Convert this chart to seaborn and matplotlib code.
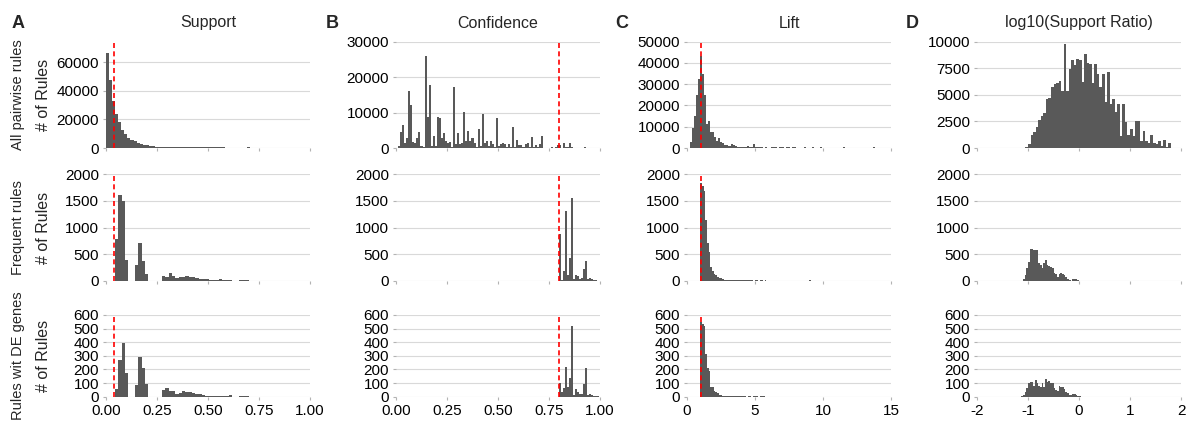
import numpy as np
import pandas as pd
import matplotlib
matplotlib.use("Agg")
import matplotlib.pyplot as plt
import seaborn as sns

# ---- histogram counts (start of first bin, bin width, counts) ----

# Support
support_all_start, support_all_width = 0.0, 0.015
support_all = [66800, 47500, 32700, 23500, 18100, 12900, 9650, 7050, 5900, 4700,
               3800, 2800, 2350, 1900, 1400, 1200, 1000, 900, 850, 800,
               800, 750, 750, 700, 700, 700, 650, 650, 600, 600,
               600, 550, 550, 500, 500, 450, 450, 400, 400, 350,
               350, 300, 300, 250, 0, 0, 600]

support_freq_start, support_freq_width = 0.044, 0.0164
support_freq = [780, 1610, 1500, 394, 0, 0, 300, 706, 375, 131,
                0, 0, 0, 0, 94, 69, 144, 94, 50, 69,
                81, 94, 69, 75, 56, 44, 37, 30, 25, 25,
                12, 30, 19, 19, 19, 0, 0, 19, 19, 10]
support_de = [56, 269, 397, 171, 0, 0, 86, 289, 208, 93,
              0, 0, 0, 0, 49, 61, 42, 42, 22, 24,
              42, 34, 32, 29, 20, 20, 15, 7, 5, 5,
              5, 5, 5, 5, 15, 0, 0, 5, 5, 5]

# Confidence
conf_all_start, conf_all_width = 0.0, 0.01
conf_all = [0, 570, 4550, 6550, 1500, 2940, 16000, 12200, 1800, 1500,
            2900, 4550, 570, 300, 25900, 8800, 17900, 570, 3400, 570,
            8800, 8600, 2900, 4300, 2000, 1500, 1800, 300, 17100, 1000,
            4100, 1000, 1500, 10300, 2000, 4840, 2000, 2750, 1500, 300,
            5400, 600, 9700, 1500, 2000, 500, 2000, 1000, 300, 8600,
            570, 1200, 1500, 1000, 300, 1200, 300, 5800, 300, 2300,
            850, 760, 280, 1000, 1500, 300, 3100, 280, 850, 200,
            1000, 3400, 100, 100, 100, 100, 280, 100, 200, 760,
            850, 100, 1400, 200, 200, 1400, 200, 100, 100, 100,
            100, 100, 400, 100, 100, 100, 100, 100, 100, 100]

conf_freq_start, conf_freq_width = 0.797, 0.01
conf_freq = [875, 20, 190, 1310, 110, 425, 1550, 30, 110, 94,
             30, 50, 225, 375, 30, 50, 38, 19, 12, 8]
conf_de = [98, 37, 61, 215, 69, 135, 519, 12, 56, 32,
           17, 17, 93, 208, 12, 20, 10, 7, 5, 2]

# Lift
lift_all_start, lift_all_width = 0.2, 0.15
lift_all = [2850, 9200, 15200, 24700, 32300, 43200, 35000, 25000, 11200, 12800,
            7600, 7300, 5200, 3300, 4600, 3000, 2500, 1400, 1400, 800,
            2000, 1200, 800, 600, 600, 500, 500, 500, 800, 300,
            300, 1750, 600, 500, 400, 400, 0, 400, 0, 0,
            400, 400, 400, 0, 400, 400, 0, 400, 400, 0,
            400, 400, 0, 0, 0, 0, 400, 0, 0, 0,
            400, 0, 0, 0, 400, 0, 0, 0, 0, 0,
            0, 0, 0, 0, 0, 400, 0, 0, 0, 0,
            0, 0, 0, 0, 0, 0, 0, 0, 0, 0,
            400]

lift_freq_start, lift_freq_width = 0.97, 0.125
lift_freq = [1830, 1790, 1690, 1140, 706, 550, 270, 194, 131, 112,
             81, 62, 62, 31, 25, 22, 20, 18, 16, 15,
             15, 14, 14, 12, 12, 12, 10, 10, 10, 10,
             10, 0, 12, 10, 0, 12, 12, 0, 12, 0,
             0, 0, 0, 0, 0, 0, 0, 0, 0, 0,
             0, 0, 0, 0, 0, 0, 0, 0, 0, 0,
             0, 0, 0, 0, 15]
lift_de = [546, 534, 519, 313, 208, 191, 69, 69, 44, 32,
           24, 15, 12, 8, 7, 6, 6, 5, 5, 5,
           5, 5, 4, 4, 4, 4, 4, 0, 4, 4,
           0, 4, 4, 4, 0, 4, 4, 4]

# log10(Support Ratio)
ratio_all_start, ratio_all_width = -1.05, 0.05
ratio_all = [100, 350, 1200, 1550, 2020, 2620, 3000, 3320, 4610, 4710,
             5780, 6030, 6100, 6290, 5340, 9760, 5400, 7460, 8310, 7800,
             8400, 8310, 6190, 8850, 8000, 7870, 6100, 7930, 6980, 5720,
             6920, 4300, 7140, 4140, 4610, 3350, 4140, 1140, 4140, 2400,
             1230, 1770, 1140, 2560, 2560, 660, 1610, 660, 500, 1230,
             500, 350, 660, 190, 730, 100, 500]

ratio_freq_start, ratio_freq_width = -1.1, 1 / 30
ratio_freq = [30, 112, 237, 362, 600, 594, 581, 581, 581, 331,
              300, 237, 331, 394, 300, 281, 269, 237, 156, 131,
              81, 131, 144, 131, 112, 81, 31, 19, 0, 31,
              37, 31, 19]
ratio_de_start = -1.1 - 1 / 30
ratio_de = [5, 12, 37, 61, 103, 110, 105, 81, 122, 98,
            78, 73, 98, 69, 127, 110, 115, 98, 103, 61,
            49, 44, 78, 73, 69, 54, 37, 24, 12, 12,
            20, 20, 12, 5, 2]

col_titles = ["Support", "Confidence", "Lift", "log10(Support Ratio)"]
col_letters = ["A", "B", "C", "D"]
row_titles = ["All pairwise rules", "Frequent rules", "Rules wit DE genes"]
cutoffs = [0.04, 0.8, 1.0, None]

x_limits = [(0, 1), (0, 1), (0, 15), (-2, 2)]
x_ticks = [[0, 0.25, 0.5, 0.75, 1.0], [0, 0.25, 0.5, 0.75, 1.0], [0, 5, 10, 15], [-2, -1, 0, 1, 2]]
x_ticklabels = [["0.00", "0.25", "0.50", "0.75", "1.00"], ["0.00", "0.25", "0.50", "0.75", "1.00"],
                ["0", "5", "10", "15"], ["-2", "-1", "0", "1", "2"]]
y_top_all = [74500, 30000, 50000, 10000]
y_ticks_all = [[0, 20000, 40000, 60000], [0, 10000, 20000, 30000],
               [0, 10000, 20000, 30000, 40000, 50000], [0, 2500, 5000, 7500, 10000]]
y_ticks_freq = [0, 500, 1000, 1500, 2000]
y_ticks_de = [0, 100, 200, 300, 400, 500, 600]

panels = [
    [(support_all_start, support_all_width, support_all),
     (conf_all_start, conf_all_width, conf_all),
     (lift_all_start, lift_all_width, lift_all),
     (ratio_all_start, ratio_all_width, ratio_all)],
    [(support_freq_start, support_freq_width, support_freq),
     (conf_freq_start, conf_freq_width, conf_freq),
     (lift_freq_start, lift_freq_width, lift_freq),
     (ratio_freq_start, ratio_freq_width, ratio_freq)],
    [(support_freq_start, support_freq_width, support_de),
     (conf_freq_start, conf_freq_width, conf_de),
     (lift_freq_start, lift_freq_width, lift_de),
     (ratio_de_start, ratio_freq_width, ratio_de)],
]

sns.set_style("white")
plt.rcParams["font.family"] = ["Liberation Sans", "DejaVu Sans"]
plt.rcParams["axes.unicode_minus"] = False

BAR = "#595959"
GRID = "#d9d9d9"
TICK = "#b3b3b3"

W, H = 1187, 421
fig = plt.figure(figsize=(W / 100, H / 100), dpi=100)

col_left = [106, 396, 687, 977]
col_w = 204
row_top = [41.7, 174.3, 315.0]
row_bot = [148.0, 281.0, 396.7]

for r in range(3):
    for c in range(4):
        ax = fig.add_axes([col_left[c] / W, 1 - row_bot[r] / H,
                           col_w / W, (row_bot[r] - row_top[r]) / H])
        start, width, counts = panels[r][c]
        edges = start + width * np.arange(len(counts) + 1)
        df = pd.DataFrame({"value": (edges[:-1] + edges[1:]) / 2,
                           "count": np.asarray(counts, dtype=float)})
        sns.histplot(data=df, x="value", weights="count", bins=list(edges), ax=ax,
                     color=BAR, alpha=1, linewidth=0)

        if r == 0:
            ax.set_ylim(0, y_top_all[c])
            yt = y_ticks_all[c]
        elif r == 1:
            ax.set_ylim(0, 2000)
            yt = y_ticks_freq
        else:
            ax.set_ylim(0, 600)
            yt = y_ticks_de
        ax.set_yticks(yt)
        ax.set_yticklabels([str(v) for v in yt])
        ax.set_xlim(*x_limits[c])
        ax.set_xticks(x_ticks[c])
        ax.set_xticklabels(x_ticklabels[c])

        if cutoffs[c] is not None:
            ax.axvline(cutoffs[c], color="red", lw=1.2, ls=(0, (3, 2)), zorder=3)

        ax.grid(axis="y", color=GRID, lw=0.8)
        ax.grid(axis="x", visible=False)
        ax.set_axisbelow(True)
        for s in ax.spines.values():
            s.set_visible(False)
        ax.tick_params(axis="both", length=2.5, width=0.8, color=TICK,
                       labelsize=11, labelcolor="black", pad=2.5)
        ax.tick_params(axis="x", bottom=True, labelbottom=(r == 2), pad=3)
        ax.tick_params(axis="y", left=True)
        ax.set_xlabel("")
        ax.set_ylabel("")

# column letters and titles
for c in range(4):
    fig.text(col_left[c] / W + (col_w / 2) / W, 1 - 23 / H, col_titles[c],
             ha="center", va="center", fontsize=11.5)
letter_x = [18, 332, 622, 912]
for c in range(4):
    fig.text(letter_x[c] / W, 1 - 23 / H, col_letters[c], ha="center", va="center",
             fontsize=13, fontweight="bold")

# row labels
for r in range(3):
    yc = 1 - (row_top[r] + row_bot[r]) / 2 / H
    fig.text(18 / W, yc, row_titles[r], rotation=90, ha="center", va="center", fontsize=10.5)
    fig.text(43 / W, yc, "# of Rules", rotation=90, ha="center", va="center", fontsize=11.5)

fig.savefig("out.png", dpi=100)
